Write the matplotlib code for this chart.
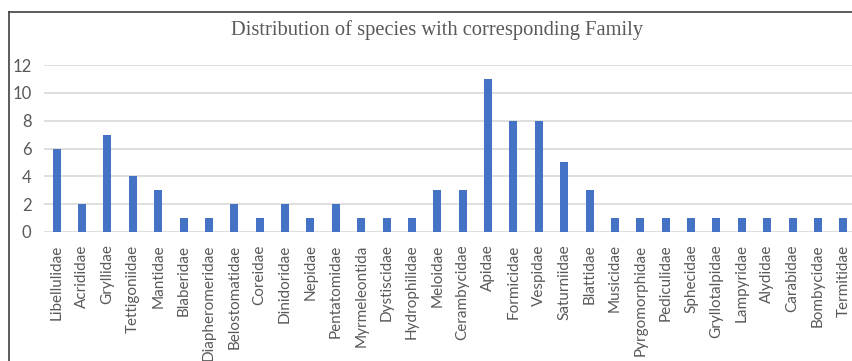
import matplotlib
matplotlib.use("Agg")
import matplotlib.pyplot as plt
from matplotlib.lines import Line2D
import numpy as np

families = ["Libellulidae", "Acrididae", "Gryllidae", "Tettigoniidae", "Mantidae",
            "Blaberidae", "Diapheromeridae", "Belostomatidae", "Coreidae", "Dinidoridae",
            "Nepidae", "Pentatomidae", "Myrmeleontida", "Dystiscidae", "Hydrophilidae",
            "Meloidae", "Cerambycidae", "Apidae", "Formicidae", "Vespidae",
            "Saturniidae", "Blattidae", "Musicidae", "Pyrgomorphidae", "Pediculidae",
            "Sphecidae", "Gryllotalpidae", "Lampyridae", "Alydidae", "Carabidae",
            "Bombycidae", "Termitidae"]
counts = [6, 2, 7, 4, 3, 1, 1, 2, 1, 2, 1, 2, 1, 1, 1, 3, 3, 11, 8, 8, 5, 3,
          1, 1, 1, 1, 1, 1, 1, 1, 1, 1]
yticks = [0, 2, 4, 6, 8, 10, 12]

W, H = 852, 361
fig = plt.figure(figsize=(W / 100, H / 100), dpi=100)
ax = fig.add_axes([44 / W, 1 - 232 / H, 812 / W, 167 / H])

x = np.arange(len(families))
ax.bar(x, counts, width=0.32, color="#4472C4", zorder=3)
ax.set_xlim(-0.5, len(families) - 0.5)
ax.set_ylim(0, 12)
ax.set_yticks(yticks)
ax.set_xticks(x)
ax.set_xticklabels(families, rotation=90, fontsize=11, family="Lato", color="#595959")
for lab in ax.get_yticklabels():
    lab.set_fontsize(12)
    lab.set_family("Lato")
    lab.set_color("#595959")
ax.tick_params(axis="both", length=0)
ax.tick_params(axis="x", pad=9)
ax.tick_params(axis="y", pad=9)
ax.grid(axis="y", color="#D9D9D9", linewidth=1.2, zorder=0)
for s in ax.spines.values():
    s.set_visible(False)

fig.text(437 / W, 1 - 30 / H, "Distribution of species with corresponding Family",
         ha="center", va="center", fontsize=14.8, family="Liberation Serif", color="#595959")

# outer chart border (clipped at right and bottom)
fig.add_artist(Line2D([9 / W, 9 / W], [1 - 12 / H, 0], color="#404040", lw=1.2))
fig.add_artist(Line2D([9 / W, 1], [1 - 12 / H, 1 - 12 / H], color="#404040", lw=1.2))

fig.savefig("out.png", dpi=100)
